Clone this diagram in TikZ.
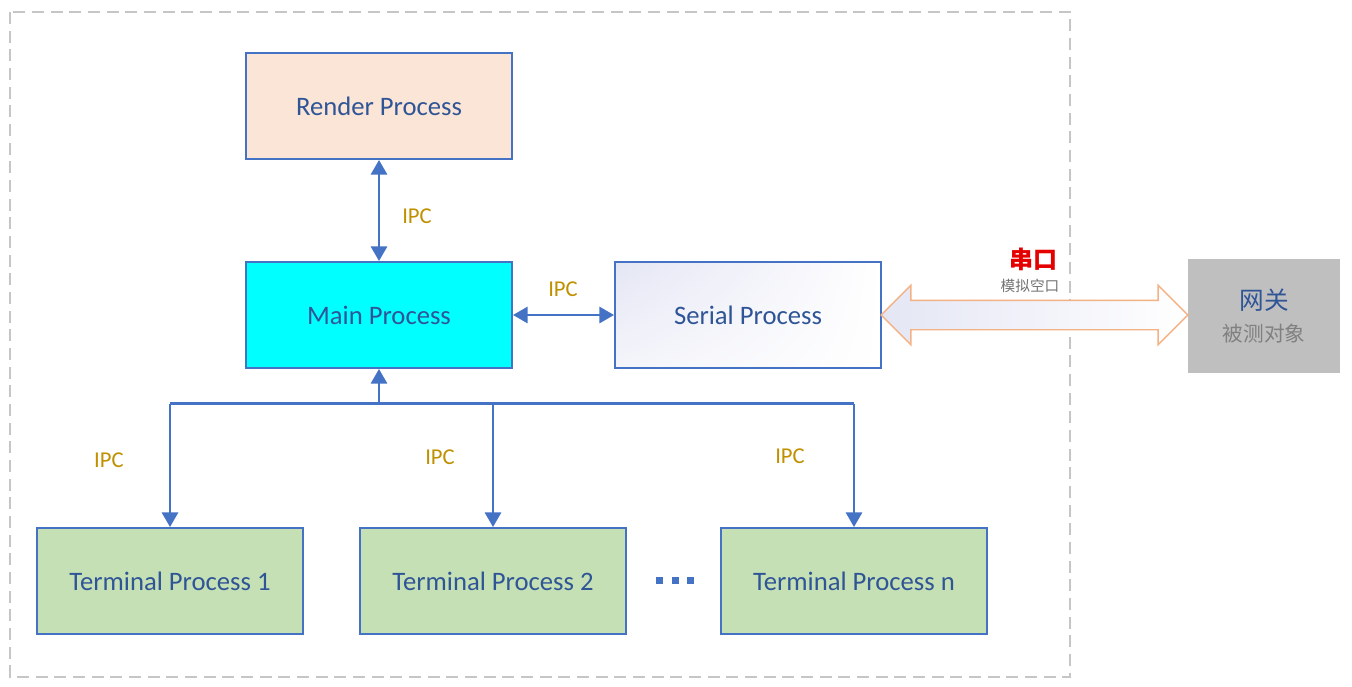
\documentclass[tikz,border=0pt]{standalone}
\usepackage{fontspec}
\setmainfont{Carlito}
\newfontfamily\cjk{Noto Sans CJK SC}
\usepackage{xcolor}
\usetikzlibrary{arrows.meta,shapes.arrows,shadings}

\definecolor{lineblue}{HTML}{4472C4}
\definecolor{textblue}{HTML}{2F5597}
\definecolor{peach}{HTML}{FBE5D6}
\definecolor{aqua}{HTML}{00FFFF}
\definecolor{leaf}{HTML}{C5E0B4}
\definecolor{ipcgold}{HTML}{BF9000}
\definecolor{linkorange}{HTML}{F4B183}
\definecolor{lavender}{HTML}{E4E6F4}

\newcommand{\sqdot}{\rule{5.25pt}{5.25pt}}

\begin{document}
\begin{tikzpicture}[x=0.75pt,y=-0.75pt,
  proc/.style={draw=lineblue, line width=1.4pt, minimum width=199.5pt, minimum height=79.5pt,
    font=\fontsize{20}{24}\selectfont, text=textblue},
  ipc/.style={text=ipcgold, font=\fontsize{17}{20}\selectfont},
  conn/.style={draw=lineblue, line width=2.2pt},
  tip/.style={-{Triangle[length=11pt,width=12pt]}},
  tips/.style={{Triangle[length=11pt,width=12pt]}-{Triangle[length=11pt,width=12pt]}}]

\useasboundingbox (0,0) rectangle (1352,686);

% Frame
\draw[gray!45, line width=1.4pt, dash pattern=on 9pt off 5pt] (10,12) rectangle (1070,677);

% Processes
\node[proc, fill=peach] (render) at (379,106) {Render Process};
\node[proc, fill=aqua] (main) at (379,315) {Main Process};
\node[proc, upper left=lavender, upper right=white, lower left=white!60!lavender, lower right=white] (serial) at (748,315) {Serial Process};
\node[proc, fill=leaf] (t1) at (170,581) {Terminal Process 1};
\node[proc, fill=leaf] (t2) at (493,581) {Terminal Process 2};
\node[proc, fill=leaf] (tn) at (854,581) {Terminal Process n};
\node[text=lineblue, inner sep=0pt] (dots) at (675,580) {\sqdot\hspace{6.3pt}\sqdot\hspace{6.3pt}\sqdot};

% Gateway
\node[fill=gray!50, minimum width=114pt, minimum height=85.5pt, align=center] (gw) at (1264,316)
  {{\cjk\fontsize{18.5}{22}\selectfont\color{textblue}网关}\\[8pt]{\cjk\fontsize{15.5}{18}\selectfont\color{gray}被测对象}};

% Serial link
\node[double arrow, draw=linkorange, line width=1.1pt, left color=lavender, right color=white,
  inner xsep=0pt, inner ysep=10.5pt, double arrow head extend=11.25pt, double arrow head indent=0pt,
  minimum height=230pt] (link) at (1034.5,315) {};
\node[text=red!90!black, font=\cjk\fontsize{18}{20}\bfseries] (uart) at (1033,259) {串口};
\node[text=gray!90!black, font=\cjk\fontsize{11}{13}\selectfont] (sim) at (1030,286) {模拟空口};

% IPC links
\draw[conn, tips] (render) -- (main);
\node[ipc] (ipc1) at (417,216) {IPC};
\draw[conn, tips] (main) -- (serial);
\node[ipc] (ipc2) at (563,289) {IPC};

% Bus
\draw[conn, tip] (main.south) ++(0,35) coordinate (bus) -- (main.south);
\draw[conn] (bus -| t1) -- (bus -| tn);
\draw[conn, tip] (bus -| t1) -- (t1.north);
\draw[conn, tip] (bus -| t2) -- (t2.north);
\draw[conn, tip] (bus -| tn) -- (tn.north);
\node[ipc] (ipc3) at (109,460) {IPC};
\node[ipc] (ipc4) at (440,457) {IPC};
\node[ipc] (ipc5) at (790,456) {IPC};
\end{tikzpicture}
\end{document}
